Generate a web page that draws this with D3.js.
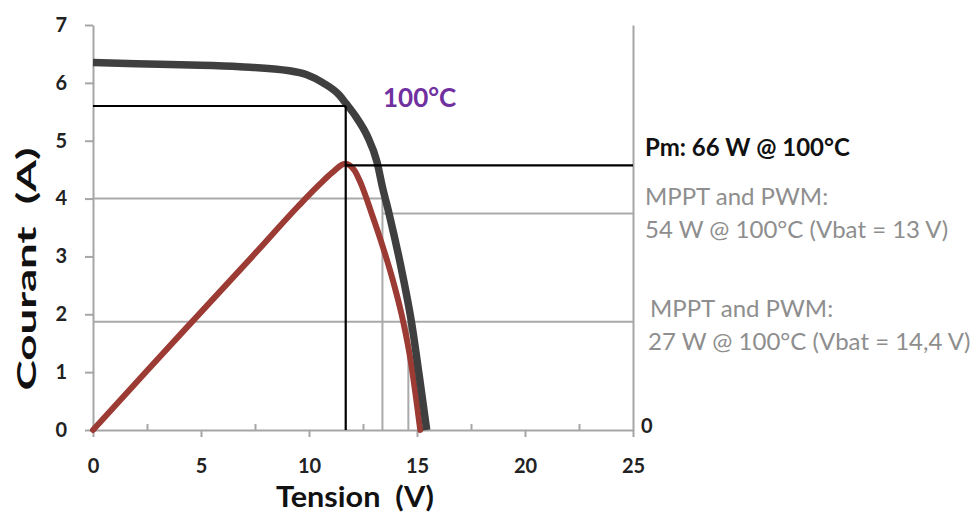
<!DOCTYPE html>
<html>
<head>
<meta charset="utf-8">
<script src="https://cdn.jsdelivr.net/npm/d3@7"></script>
<style>
  html, body { margin: 0; padding: 0; background: #fff; }
  svg { display: block; font-family: Lato, "Open Sans", sans-serif; }
</style>
</head>
<body>
<svg id="chart" width="976" height="513"></svg>
<script>
// I-V curve of the panel at 100°C: voltage (V) and current (A)
const ivVoltage = [0, 2, 4.5, 6.8, 9.1, 9.9, 10.65, 11.4, 11.7, 12.2, 12.7, 13.15, 13.4, 13.7, 14.35, 14.75, 15.1, 15.45];
const ivCurrent = [6.35, 6.33, 6.31, 6.28, 6.21, 6.14, 6.0, 5.79, 5.65, 5.4, 5.08, 4.63, 4.2, 3.75, 2.65, 1.85, 0.95, 0];

// P-V curve at 100°C: voltage (V) and power (W)
const pvVoltage = [0, 2.5, 5, 7.5, 9.5, 10.5, 11.1, 11.67, 12.1, 12.4, 12.9, 13.4, 13.9, 14.3, 14.7, 15.15];
const pvPower = [0, 14.8, 29.4, 44, 55.8, 61.3, 64.3, 66.4, 64.8, 61.5, 54, 46, 37, 28.5, 17.5, 0];

// Operating points
const mpp = { voltage: 11.7, current: 5.6, power: 66 };
const pwm13 = { voltage: 13.4, current: 4.0, power: 54 };
const pwm144 = { voltage: 14.6, power: 27 };

// Axis ticks
const xTicks = [0, 5, 10, 15, 20, 25];
const xMinorTicks = [2.5, 7.5, 12.5, 17.5, 22.5];
const yTicks = [0, 1, 2, 3, 4, 5, 6, 7];
const powerTicks = [0];

// Labels
const xTitle = "Tension\u00a0 (V)";
const yTitle = "Courant\u00a0 (A)";
const tempLabel = "100°C";
const pmLabel = "Pm: 66 W @ 100°C";
const pwmLabel13 = ["MPPT and PWM:", "54 W @ 100°C (Vbat = 13 V)"];
const pwmLabel144 = ["MPPT and PWM:", "27 W @ 100°C (Vbat = 14,4 V)"];

const svg = d3.select("#chart");
const x = d3.scaleLinear().domain([0, 25]).range([93, 633]);
const y = d3.scaleLinear().domain([0, 7]).range([430, 25]);
// secondary (power) axis on the right, sharing the plot height
const yP = d3.scaleLinear().domain([0, 101]).range([430, 25]);

const axisGrey = "#a6a6a6";
const guideGrey = "#a9a9a9";
const tickFont = 20;

// ---- axes ----
const gx = svg.append("g").attr("transform", `translate(0,${y(0)})`)
  .call(d3.axisBottom(x).tickValues(xTicks).tickSize(7).tickSizeOuter(0).tickPadding(22));
gx.select(".domain").attr("stroke", axisGrey).attr("stroke-width", 2);
gx.selectAll(".tick line").attr("stroke", axisGrey).attr("stroke-width", 2);
gx.selectAll(".tick text").attr("font-size", tickFont).attr("font-weight", 700)
  .attr("fill", "#222").attr("font-family", "Lato, sans-serif");

const gxMinor = svg.append("g").attr("transform", `translate(0,${y(0)})`)
  .call(d3.axisTop(x).tickValues(xMinorTicks).tickSize(6).tickFormat(""));
gxMinor.select(".domain").remove();
gxMinor.selectAll(".tick line").attr("stroke", axisGrey).attr("stroke-width", 2);

const gy = svg.append("g").attr("transform", `translate(${x(0)},0)`)
  .call(d3.axisLeft(y).tickValues(yTicks).tickFormat(d3.format("d"))
    .tickSize(8).tickSizeOuter(0).tickPadding(18));
gy.select(".domain").attr("stroke", axisGrey).attr("stroke-width", 2);
gy.selectAll(".tick line").attr("stroke", axisGrey).attr("stroke-width", 2);
gy.selectAll(".tick text").attr("font-size", tickFont).attr("font-weight", 700)
  .attr("fill", "#222").attr("font-family", "Lato, sans-serif");

const gyP = svg.append("g").attr("transform", `translate(${x(25)},0)`)
  .call(d3.axisRight(yP).tickValues(powerTicks).tickFormat(d3.format("d"))
    .tickSize(0).tickSizeOuter(0).tickPadding(8));
gyP.select(".domain").attr("stroke", axisGrey).attr("stroke-width", 2);
gyP.selectAll(".tick text").attr("font-size", tickFont).attr("font-weight", 700)
  .attr("fill", "#222").attr("font-family", "Lato, sans-serif").attr("dy", "0.1em");

// axis titles
svg.append("text").attr("x", 355).attr("y", 507).attr("text-anchor", "middle")
  .attr("font-size", 28).attr("font-weight", 700).attr("fill", "#111")
  .attr("textLength", 158).attr("lengthAdjust", "spacingAndGlyphs").text(xTitle);
svg.append("text").attr("transform", "translate(36,269) rotate(-90)").attr("text-anchor", "middle")
  .attr("font-size", 26).attr("font-weight", 700).attr("fill", "#111")
  .attr("textLength", 243).attr("lengthAdjust", "spacingAndGlyphs").text(yTitle);

// ---- grey guides for the PWM operating points ----
const guides = svg.append("g").attr("stroke", guideGrey).attr("stroke-width", 2).attr("fill", "none");
guides.append("line").attr("x1", x(0)).attr("x2", x(pwm13.voltage))
  .attr("y1", y(pwm13.current)).attr("y2", y(pwm13.current));
guides.append("line").attr("x1", x(pwm13.voltage)).attr("x2", x(pwm13.voltage))
  .attr("y1", y(pwm13.current)).attr("y2", y(0));
guides.append("line").attr("x1", x(pwm13.voltage)).attr("x2", x(25))
  .attr("y1", yP(pwm13.power)).attr("y2", yP(pwm13.power));
guides.append("line").attr("x1", x(0)).attr("x2", x(25))
  .attr("y1", yP(pwm144.power)).attr("y2", yP(pwm144.power));
guides.append("line").attr("x1", x(pwm144.voltage)).attr("x2", x(pwm144.voltage))
  .attr("y1", yP(pwm144.power)).attr("y2", y(0));

// ---- curves ----
const pvLine = d3.line().x(d => x(d[0])).y(d => yP(d[1])).curve(d3.curveMonotoneX);
svg.append("path").datum(d3.zip(pvVoltage, pvPower))
  .attr("d", pvLine).attr("fill", "none").attr("stroke", "#9c3a34")
  .attr("stroke-width", 6).attr("stroke-linejoin", "round").attr("stroke-linecap", "round");

const ivLine = d3.line().x(d => x(d[0])).y(d => y(d[1])).curve(d3.curveMonotoneX);
svg.append("path").datum(d3.zip(ivVoltage, ivCurrent))
  .attr("d", ivLine).attr("fill", "none").attr("stroke", "#3f3f3f")
  .attr("stroke-width", 7.5).attr("stroke-linejoin", "round");

// ---- maximum power point guides ----
const mppG = svg.append("g").attr("stroke", "#000").attr("stroke-width", 2.2);
mppG.append("line").attr("x1", x(0)).attr("x2", x(mpp.voltage))
  .attr("y1", y(mpp.current)).attr("y2", y(mpp.current));
mppG.append("line").attr("x1", x(mpp.voltage)).attr("x2", x(mpp.voltage))
  .attr("y1", y(mpp.current)).attr("y2", y(0));
mppG.append("line").attr("x1", x(mpp.voltage)).attr("x2", x(25))
  .attr("y1", yP(mpp.power)).attr("y2", yP(mpp.power));

// ---- annotations ----
svg.append("text").attr("x", 383).attr("y", 107).attr("font-size", 26).attr("font-weight", 700)
  .attr("fill", "#7030a0").text(tempLabel);

svg.append("text").attr("x", 645).attr("y", 156).attr("font-size", 24).attr("font-weight", 700)
  .attr("fill", "#111").text(pmLabel);

const grey = "#8e8e8e";
svg.append("text").attr("x", 645).attr("y", 205).attr("font-size", 24).attr("fill", grey).text(pwmLabel13[0]);
svg.append("text").attr("x", 645).attr("y", 238).attr("font-size", 24).attr("fill", grey).text(pwmLabel13[1]);
svg.append("text").attr("x", 650).attr("y", 317).attr("font-size", 24).attr("fill", grey).text(pwmLabel144[0]);
svg.append("text").attr("x", 648).attr("y", 350).attr("font-size", 24).attr("fill", grey).text(pwmLabel144[1]);
</script>
</body>
</html>
